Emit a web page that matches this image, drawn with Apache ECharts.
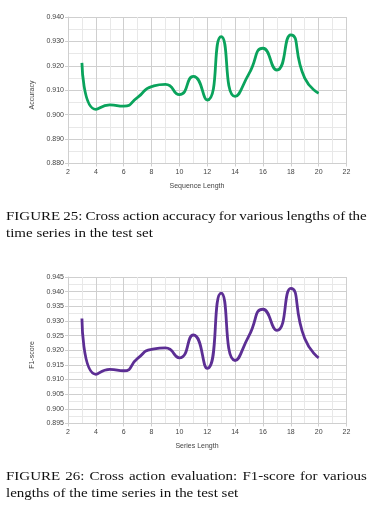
<!DOCTYPE html>
<html>
<head>
<meta charset="utf-8">
<script src="https://cdn.jsdelivr.net/npm/echarts@6/dist/echarts.min.js"></script>
<style>
  html, body { margin: 0; padding: 0; background: #fff; }
  #wrap { position: relative; width: 375px; height: 525px; overflow: hidden; }
  #chart { position: absolute; left: 0; top: 0; width: 375px; height: 525px; }
  .cap { position: absolute; left: 6px; width: 325px; transform: scaleX(1.11); transform-origin: 0 0; font-family: "Liberation Serif", "Times New Roman", serif; font-size: 13.5px; line-height: 17px; color: #111; }
  .cap .j { text-align: justify; text-align-last: justify; white-space: nowrap; word-spacing: -1px; }
  .cap .l { text-align: left; white-space: nowrap; }
</style>
</head>
<body>
<div id="wrap">
  <div id="chart"></div>
  <div class="cap" style="top:207px;">
    <div class="j">FIGURE 25: Cross action accuracy for various lengths of the</div>
    <div class="l">time series in the test set</div>
  </div>
  <div class="cap" style="top:467px;">
    <div class="j">FIGURE 26: Cross action evaluation: F1-score for various</div>
    <div class="l">lengths of the time series in the test set</div>
  </div>
</div>
<script>
// ---- data ----
var seqLengths = [3, 4, 5, 6, 7, 8, 9, 10, 11, 12, 13, 14, 15, 16, 17, 18, 19, 20];
var accuracy = [0.9212, 0.9022, 0.9040, 0.9035, 0.9071, 0.9115, 0.9124, 0.9082, 0.9157, 0.9060, 0.9320, 0.9075, 0.9168, 0.9272, 0.9183, 0.9327, 0.9150, 0.9088];
var f1score  = [0.9308, 0.9118, 0.9135, 0.9130, 0.9172, 0.9203, 0.9208, 0.9174, 0.9252, 0.9138, 0.9395, 0.9165, 0.9250, 0.9340, 0.9268, 0.9411, 0.9240, 0.9174];
var topTitleX = "Sequence Length";
var topTitleY = "Accuracy";
var botTitleX = "Series Length";
var botTitleY = "F1-score";

function pairs(xs, ys) { return xs.map(function (x, i) { return [x, ys[i]]; }); }

var axisFont = { fontFamily: "Liberation Sans, Arial, sans-serif", fontSize: 7, color: "#444" };
var major = "#cfcfcf", minor = "#e8e8e8";

function xAxis(gi) {
  return {
    type: "value", gridIndex: gi, min: 2, max: 22, interval: 2,
    axisLine: { show: true, lineStyle: { color: major, width: 1 } },
    axisTick: { show: true, length: 3, lineStyle: { color: major } },
    axisLabel: Object.assign({ margin: 5 }, axisFont),
    splitLine: { show: true, lineStyle: { color: major, width: 1 } },
    minorTick: { show: false, splitNumber: 2 },
    minorSplitLine: { show: true, lineStyle: { color: minor, width: 1 } }
  };
}
function yAxis(gi, mn, mx, iv) {
  return {
    type: "value", gridIndex: gi, min: mn, max: mx, interval: iv,
    axisLine: { show: true, lineStyle: { color: major, width: 1 } },
    axisTick: { show: true, length: 3, lineStyle: { color: major } },
    axisLabel: Object.assign({ margin: 4, formatter: function (v) { return v.toFixed(3); } }, axisFont),
    splitLine: { show: true, lineStyle: { color: major, width: 1 } },
    minorTick: { show: false, splitNumber: 2 },
    minorSplitLine: { show: true, lineStyle: { color: minor, width: 1 } }
  };
}

var titleFont = "7px Liberation Sans, Arial, sans-serif";
var chart = echarts.init(document.getElementById("chart"), null, { renderer: "canvas" });
chart.setOption({
  animation: false,
  backgroundColor: "#fff",
  grid: [
    { left: 68, top: 17, width: 278.5, height: 146.5, containLabel: false },
    { left: 68, top: 277, width: 278.5, height: 146.5, containLabel: false }
  ],
  xAxis: [xAxis(0), xAxis(1)],
  yAxis: [yAxis(0, 0.88, 0.94, 0.01), yAxis(1, 0.895, 0.945, 0.005)],
  graphic: [
    { type: "text", x: 197, y: 186, style: { text: topTitleX, font: titleFont, fill: "#444", align: "center", verticalAlign: "middle" } },
    { type: "text", x: 32, y: 95, rotation: Math.PI / 2, style: { text: topTitleY, font: titleFont, fill: "#444", align: "center", verticalAlign: "middle" } },
    { type: "text", x: 197, y: 446, style: { text: botTitleX, font: titleFont, fill: "#444", align: "center", verticalAlign: "middle" } },
    { type: "text", x: 32, y: 355, rotation: Math.PI / 2, style: { text: botTitleY, font: titleFont, fill: "#444", align: "center", verticalAlign: "middle" } }
  ],
  series: [
    { type: "line", xAxisIndex: 0, yAxisIndex: 0, data: pairs(seqLengths, accuracy), smooth: 0.6, showSymbol: false, lineStyle: { color: "#0aa35c", width: 2.8 } },
    { type: "line", xAxisIndex: 1, yAxisIndex: 1, data: pairs(seqLengths, f1score), smooth: 0.6, showSymbol: false, lineStyle: { color: "#5c2e94", width: 2.8 } }
  ]
});
</script>
</body>
</html>
